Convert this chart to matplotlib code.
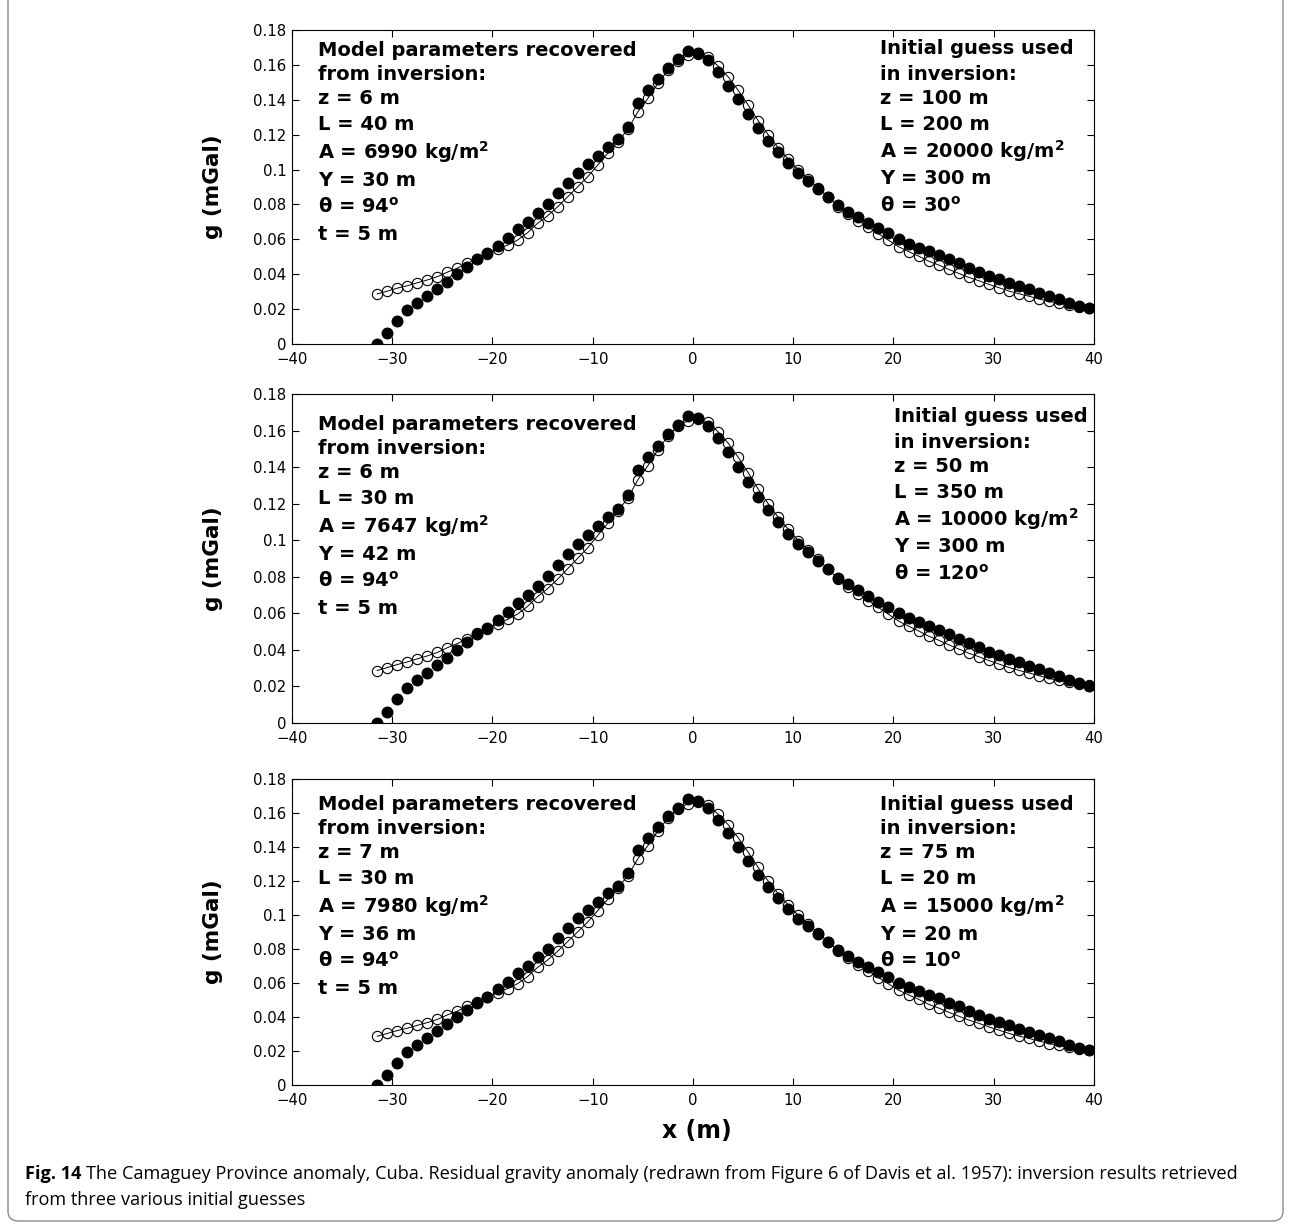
import numpy as np
import matplotlib
matplotlib.use("Agg")
import matplotlib.pyplot as plt
from matplotlib.patches import FancyBboxPatch

plt.rcParams["font.family"] = "DejaVu Sans"
plt.rcParams["mathtext.fontset"] = "custom"
plt.rcParams["mathtext.rm"] = "DejaVu Sans"
plt.rcParams["mathtext.bf"] = "DejaVu Sans:bold"

# stations along the profile (m)
x = np.arange(-31.5, 40.0, 1.0)

# residual gravity anomaly, observed (mGal)
g_obs = [
    0.0287, 0.0303, 0.0320, 0.0334, 0.0351, 0.0367, 0.0386, 0.0412, 0.0435, 0.0462,
    0.0490, 0.0516, 0.0543, 0.0567, 0.0596, 0.0638, 0.0692, 0.0735, 0.0787, 0.0844,
    0.0901, 0.0959, 0.1026, 0.1093, 0.1160, 0.1230, 0.1331, 0.1408, 0.1494, 0.1570,
    0.1623, 0.1655, 0.1662, 0.1646, 0.1593, 0.1532, 0.1455, 0.1370, 0.1280, 0.1200,
    0.1125, 0.1060, 0.0998, 0.0945, 0.0895, 0.0840, 0.0788, 0.0745, 0.0707, 0.0670,
    0.0632, 0.0595, 0.0558, 0.0530, 0.0504, 0.0475, 0.0453, 0.0428, 0.0405, 0.0382,
    0.0363, 0.0342, 0.0323, 0.0304, 0.0288, 0.0274, 0.0259, 0.0244, 0.0233, 0.0223,
    0.0213, 0.0207,
]

# anomaly computed from the inverted model (mGal)
g_calc = [
    0.0000, 0.0061, 0.0130, 0.0193, 0.0237, 0.0275, 0.0315, 0.0357, 0.0399, 0.0443,
    0.0485, 0.0520, 0.0562, 0.0606, 0.0657, 0.0701, 0.0752, 0.0802, 0.0867, 0.0922,
    0.0982, 0.1031, 0.1077, 0.1127, 0.1173, 0.1245, 0.1383, 0.1455, 0.1517, 0.1583,
    0.1631, 0.1681, 0.1669, 0.1627, 0.1560, 0.1480, 0.1402, 0.1318, 0.1236, 0.1165,
    0.1098, 0.1035, 0.0978, 0.0934, 0.0888, 0.0841, 0.0795, 0.0758, 0.0726, 0.0695,
    0.0663, 0.0634, 0.0602, 0.0575, 0.0553, 0.0531, 0.0510, 0.0485, 0.0462, 0.0437,
    0.0414, 0.0391, 0.0371, 0.0351, 0.0332, 0.0313, 0.0294, 0.0275, 0.0256, 0.0233,
    0.0219, 0.0205,
]

recovered = [
    ["z = 6 m", "L = 40 m", "A = 6990 kg/m$^\\mathbf{2}$", "Y = 30 m", "θ = 94$^\\mathbf{o}$", "t = 5 m"],
    ["z = 6 m", "L = 30 m", "A = 7647 kg/m$^\\mathbf{2}$", "Y = 42 m", "θ = 94$^\\mathbf{o}$", "t = 5 m"],
    ["z = 7 m", "L = 30 m", "A = 7980 kg/m$^\\mathbf{2}$", "Y = 36 m", "θ = 94$^\\mathbf{o}$", "t = 5 m"],
]
initial = [
    ["z = 100 m", "L = 200 m", "A = 20000 kg/m$^\\mathbf{2}$", "Y = 300 m", "θ = 30$^\\mathbf{o}$"],
    ["z = 50 m", "L = 350 m", "A = 10000 kg/m$^\\mathbf{2}$", "Y = 300 m", "θ = 120$^\\mathbf{o}$"],
    ["z = 75 m", "L = 20 m", "A = 15000 kg/m$^\\mathbf{2}$", "Y = 20 m", "θ = 10$^\\mathbf{o}$"],
]

yticks = [0, 0.02, 0.04, 0.06, 0.08, 0.1, 0.12, 0.14, 0.16, 0.18]
xticks = [-40, -30, -20, -10, 0, 10, 20, 30, 40]

W, H = 1291, 1224
fig = plt.figure(figsize=(W / 100, H / 100), dpi=100)

# panel boxes in pixels: (top, bottom)
boxes = [(30, 344), (394, 723), (779, 1085)]
left_px, right_px = 292, 1094
right_text_x = [880, 894, 880]
left_off = [20, 30, 25]
right_off = [19, 23, 25]

px2pt = 0.72
line_gap = [0, 25, 49, 75, 102, 130, 157, 185]

for i, (top, bot) in enumerate(boxes):
    ax = fig.add_axes([left_px / W, 1 - bot / H, (right_px - left_px) / W, (bot - top) / H])
    ax.plot(x, g_obs, "-", color="k", lw=0.7, marker="o", ms=7.4,
            mfc="none", mec="k", mew=0.8)
    ax.plot(x, g_calc, "o", color="k", ms=7.6, mfc="k", mec="k")
    ax.set_xlim(-40, 40)
    ax.set_ylim(0, 0.18)
    ax.set_xticks(xticks)
    ax.set_yticks(yticks)
    ax.set_yticklabels(["%g" % t for t in yticks])
    ax.set_xticklabels([str(t).replace("-", "\u2212") for t in xticks])
    ax.tick_params(direction="in", top=True, right=True, length=5, width=0.8,
                   labelsize=10.7)
    ax.tick_params(axis="x", pad=6)
    ax.tick_params(axis="y", pad=4)
    for s in ax.spines.values():
        s.set_linewidth(0.8)
    ax.set_ylabel("g (mGal)", fontsize=15.5, fontweight="bold", labelpad=22)

    lines_l = ["Model parameters recovered", "from inversion:"] + recovered[i]
    for j, t in enumerate(lines_l):
        ax.annotate(t, xy=(26 / 802, 1), xycoords="axes fraction",
                    xytext=(0, -(left_off[i] + line_gap[j]) * px2pt),
                    textcoords="offset points", va="center", ha="left",
                    fontsize=14, fontweight="bold")
    lines_r = ["Initial guess used", "in inversion:"] + initial[i]
    for j, t in enumerate(lines_r):
        ax.annotate(t, xy=((right_text_x[i] - left_px) / 802, 1), xycoords="axes fraction",
                    xytext=(0, -(right_off[i] + line_gap[j]) * px2pt),
                    textcoords="offset points", va="center", ha="left",
                    fontsize=14, fontweight="bold")

fig.text(697 / W, 1 - 1131 / H, "x (m)", fontsize=17, fontweight="bold",
         ha="center", va="center")

# caption
cap_font = ["Open Sans", "DejaVu Sans"]
t1 = fig.text(25 / W, 1 - 1174 / H, "Fig. 14", fontsize=13.1, fontweight="bold",
              family=cap_font, va="center", ha="left")
fig.canvas.draw()
bb = t1.get_window_extent()
fig.text((bb.x1 + 5) / W, 1 - 1174 / H,
         "The Camaguey Province anomaly, Cuba. Residual gravity anomaly (redrawn from Figure 6 of Davis et al. 1957): inversion results retrieved",
         fontsize=13.1, family=cap_font, va="center", ha="left")
fig.text(25 / W, 1 - 1200 / H, "from three various initial guesses",
         fontsize=13.1, family=cap_font, va="center", ha="left")

# rounded frame around the figure
frame = FancyBboxPatch((8 / W, 1 - 1221 / H), (1283 - 8) / W, 1221 / H + 0.05,
                       boxstyle="round,pad=0,rounding_size=0.008",
                       transform=fig.transFigure, fill=False, ec="#8a8a8a", lw=1.0,
                       clip_on=False)
fig.patches.append(frame)

fig.savefig("out.png", dpi=100)
